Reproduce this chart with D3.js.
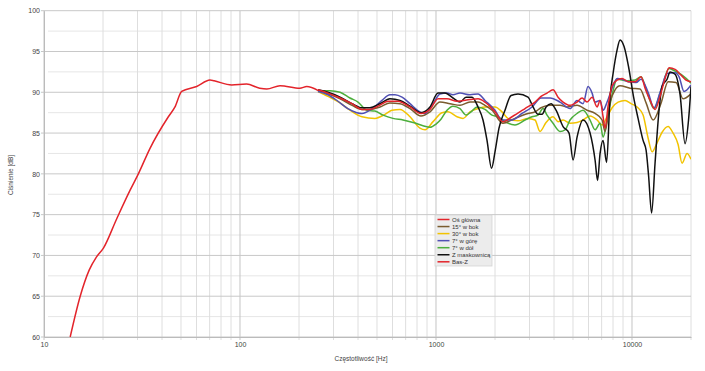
<!doctype html>
<html lang="pl">
<head>
<meta charset="utf-8">
<title>Charakterystyka</title>
<script src="https://d3js.org/d3.v7.min.js"></script>
<style>
  body { margin: 0; background: #fff; }
  svg { display: block; font-family: "Liberation Sans", Arial, sans-serif; }
  .tick text { fill: #444; font-size: 7px; }
</style>
</head>
<body>
<script>
// values: [frequency Hz, level dB]
var basZ = [[13.6,60.0],[15.3,65.0],[17.0,68.2],[18.5,69.8],[20.1,70.9],[23.5,74.5],[27.5,78.0],[30.3,80.0],[34.7,83.1],
  [43.1,87.0],[46.6,88.2],[50.4,90.1],[60.1,90.7],[70.3,91.5],[73.8,91.4],[90.7,90.9],[108,91.0],
  [126,90.5],[137,90.4],[160,90.8],[202,90.5],[219,90.7],[251,90.2]];

var osGlowna = [[250,90.3],[281,89.9],[324,89.3],[373,88.6],[419,87.9],[460,87.9],[506,88.3],[569,88.9],
  [640,88.9],[737,88.2],[838,87.4],[932,87.9],[1024,89.2],[1138,89.2],[1280,88.9],[1491,89.1],[1638,89.2],
  [1778,88.8],[2000,87.6],[2197,86.4],[2443,87.0],[2846,88.0],[3200,88.8],[3434,89.5],[3686,89.9],
  [3955,90.3],[4195,89.4],[4449,88.8],[4830,88.4],[5245,88.8],[5562,89.3],[5899,88.8],[6257,89.4],
  [6636,88.2],[6872,89.0],[7119,87.0],[7288,85.6],[7550,88.3],[7915,90.8],[8395,91.5],[8903,91.7],
  [9553,91.3],[10370,91.3],[11120,91.9],[11660,90.5],[12370,89.0],[13110,87.9],[13910,89.5],
  [14750,91.7],[15460,93.0],[16590,92.8],[17800,92.1],[18870,91.5],[20000,91.3]];

var bok15 = [[250,90.2],[281,89.8],[324,89.2],[373,88.4],[419,87.9],[460,87.9],[518,88.2],[582,88.7],
  [655,88.6],[737,88.0],[838,87.1],[932,87.6],[1048,88.8],[1179,88.6],[1326,88.4],[1491,88.8],[1638,88.8],
  [1778,88.4],[1931,87.8],[2197,86.2],[2530,86.8],[2948,87.4],[3200,87.6],[3434,88.1],[3818,88.4],
  [4294,88.4],[4663,88.2],[5245,88.4],[5899,87.8],[6480,87.4],[7037,86.6],[7288,85.2],[7730,88.8],
  [8198,90.3],[8694,90.8],[9779,90.5],[10990,90.4],[11800,88.7],[12810,86.6],[14080,88.7],[15280,91.3],
  [16790,91.2],[18220,89.2],[20000,89.8]];

var bok30 = [[250,90.1],[281,89.5],[324,88.7],[364,87.8],[419,87.0],[488,86.8],[549,87.3],[596,87.8],
  [655,87.9],[737,87.0],[828,85.6],[879,85.4],[966,86.4],[1073,87.5],[1151,87.6],[1280,87.0],[1374,86.8],
  [1491,87.6],[1638,88.0],[1778,88.2],[2000,88.2],[2172,87.6],[2330,86.8],[2621,86.5],[2948,86.8],
  [3200,86.6],[3394,85.2],[3643,86.3],[3955,87.0],[4195,86.4],[4449,86.6],[4830,86.2],[5245,86.3],
  [5628,86.6],[6110,87.1],[6636,86.6],[7037,86.0],[7463,87.0],[7915,88.1],[8493,88.8],[9221,89.0],
  [9896,88.6],[10620,88.2],[11390,87.2],[12080,84.4],[12670,82.7],[13420,83.8],[14240,85.1],
  [15280,85.8],[16200,85.0],[17190,83.6],[18010,81.3],[19100,82.5],[20000,81.8]];

var gora7 = [[250,90.1],[281,89.7],[316,88.9],[355,88.0],[395,87.5],[419,87.4],[472,88.0],[530,89.0],
  [582,89.7],[618,89.7],[671,89.4],[737,88.6],[828,87.6],[879,87.4],[966,88.6],[1048,89.8],[1138,89.9],
  [1221,89.7],[1326,89.9],[1491,89.7],[1638,89.8],[1778,89.0],[2000,87.8],[2172,86.6],[2443,86.6],
  [2747,87.4],[3090,88.2],[3434,89.3],[3818,89.3],[4294,88.8],[4830,88.0],[5245,89.0],[5628,88.6],
  [5968,90.7],[6257,89.9],[6480,88.8],[6872,89.0],[7119,87.8],[7463,88.8],[7915,90.5],[8395,91.7],
  [8903,91.6],[9553,91.3],[10490,91.2],[11120,91.6],[12080,90.0],[12960,88.1],[13910,90.0],
  [15100,92.3],[16590,92.4],[17390,91.9],[18430,90.1],[20000,90.9]];

var dol7 = [[250,90.2],[288,90.2],[324,90.0],[364,89.3],[400,88.8],[444,87.8],[488,87.7],[537,87.2],
  [603,86.8],[679,86.6],[764,86.3],[858,85.9],[932,85.7],[1000,86.1],[1060,86.7],[1138,87.8],[1221,88.3],
  [1326,88.0],[1423,87.2],[1509,87.6],[1619,88.2],[1778,87.9],[1931,87.2],[2072,87.0],[2249,86.4],
  [2530,86.0],[2846,86.6],[3090,87.0],[3315,87.2],[3516,88.0],[3686,87.2],[3955,86.2],[4294,85.2],
  [4554,85.4],[4830,86.6],[5245,87.4],[5628,87.8],[6110,86.6],[6480,85.4],[6872,86.2],[7119,84.5],
  [7463,86.6],[7915,89.7],[8395,91.6],[9442,91.4],[10370,91.5],[11120,91.9],[11940,90.0],[12960,88.0],
  [14080,90.3],[15460,92.9],[16590,92.6],[17800,92.2],[18870,91.7],[20000,91.1]];

var maskownica = [[250,90.3],[281,90.0],[324,89.4],[373,88.6],[419,88.1],[460,88.1],[518,88.6],
  [582,89.2],[655,89.0],[737,88.3],[838,87.5],[932,88.2],[1024,89.9],[1111,89.9],[1221,89.3],[1326,88.8],
  [1423,89.4],[1527,89.4],[1638,88.2],[1737,86.6],[1821,84.1],[1920,80.7],[2000,82.7],[2096,85.6],
  [2249,87.8],[2414,89.6],[2621,89.8],[2948,89.4],[3127,88.2],[3315,87.3],[3476,87.3],[3643,88.2],
  [3863,88.6],[4097,87.8],[4449,85.8],[4773,85.0],[5004,81.7],[5245,84.5],[5628,86.6],[6110,85.0],
  [6480,81.7],[6674,79.2],[6872,82.5],[7119,84.1],[7419,81.4],[7730,89.4],[8008,92.3],[8395,95.2],
  [8694,96.4],[9111,95.6],[9608,93.1],[10190,89.4],[10740,86.8],[11390,84.1],[11800,82.9],[12150,79.8],
  [12590,75.2],[13110,81.3],[13740,87.8],[14240,90.7],[15100,91.6],[15640,92.5],[16590,92.2],
  [17590,89.7],[18650,83.7],[19430,86.6],[20000,90.7]];

var legendNames = ["Oś główna", "15° w bok", "30° w bok", "7° w górę", "7° w dół", "Z maskownicą", "Bas-Z"];
var legendColors = ["#e3242b", "#7a5c2e", "#f2c300", "#5050b4", "#4cae3c", "#111111", "#e3242b"];
var seriesData = [osGlowna, bok15, bok30, gora7, dol7, maskownica, basZ];
var drawOrder = [2, 4, 1, 3, 5, 0, 6];

var yTicks = [60, 65, 70, 75, 80, 85, 90, 95, 100];
var xTicks = [10, 100, 1000, 10000];

var width = 705, height = 371;

var svg = d3.select('body').append('svg')
  .attr('width', width)
  .attr('height', height);

var x = d3.scaleLog().domain([10, 20000]).range([44, 691]);
var y = d3.scaleLinear().domain([60, 100]).range([337, 10.7]);

var grid = svg.append('g');

// minor horizontal lines, every 2.5 dB
d3.range(62.5, 100, 5).forEach(function(v) {
  grid.append('line')
    .attr('x1', 48).attr('x2', x(20000))
    .attr('y1', y(v)).attr('y2', y(v))
    .attr('stroke', '#e6e6e6').attr('stroke-width', 1);
});

// vertical minor lines 20..90, 200..900 etc
var minors = [];
[10, 100, 1000, 10000].forEach(function(dec) {
  for (var k = 2; k <= 9; k++) {
    if (dec * k <= 20000) minors.push(dec * k);
  }
});
grid.selectAll('line.vmin').data(minors).enter().append('line')
  .attr('class', 'vmin')
  .attr('x1', function(d) { return x(d); }).attr('x2', function(d) { return x(d); })
  .attr('y1', y(100)).attr('y2', y(60) + 3)
  .attr('stroke', '#dedede').attr('stroke-width', 1);

grid.selectAll('line.vmaj').data(xTicks).enter().append('line')
  .attr('class', 'vmaj')
  .attr('x1', function(d) { return x(d); }).attr('x2', function(d) { return x(d); })
  .attr('y1', y(100)).attr('y2', y(60) + 3)
  .attr('stroke', '#c4c4c4').attr('stroke-width', 1);

grid.selectAll('line.hmaj').data(yTicks).enter().append('line')
  .attr('class', 'hmaj')
  .attr('x1', x(10) - 3).attr('x2', x(20000))
  .attr('y1', function(d) { return y(d); }).attr('y2', function(d) { return y(d); })
  .attr('stroke', '#c8c8c8').attr('stroke-width', 1);

// axes (labels only, grid drawn above)
var yAxis = svg.append('g')
  .attr('transform', 'translate(' + x(10) + ',0)')
  .call(d3.axisLeft(y).tickValues(yTicks).tickSize(0).tickPadding(4));
yAxis.select('.domain').attr('stroke', '#bbb');

var xAxis = svg.append('g')
  .attr('transform', 'translate(0,' + y(60) + ')')
  .call(d3.axisBottom(x).tickValues(xTicks).tickFormat(d3.format('d')).tickSize(0).tickPadding(5));
xAxis.select('.domain').attr('stroke', '#bbb');

svg.append('text')
  .attr('x', 361).attr('y', 361)
  .attr('text-anchor', 'middle')
  .attr('font-size', 6.5).attr('fill', '#444')
  .text('Częstotliwość [Hz]');

svg.append('text')
  .attr('transform', 'translate(13,175) rotate(-90)')
  .attr('text-anchor', 'middle')
  .attr('font-size', 6.5).attr('fill', '#444')
  .text('Ciśnienie [dB]');

// curves
svg.append('clipPath').attr('id', 'plotclip')
  .append('rect')
  .attr('x', x(10)).attr('y', y(100))
  .attr('width', x(20000) - x(10)).attr('height', y(60) - y(100));

var line = d3.line()
  .x(function(d) { return x(d[0]); })
  .y(function(d) { return y(d[1]); })
  .curve(d3.curveMonotoneX);

var curves = svg.append('g').attr('clip-path', 'url(#plotclip)');
drawOrder.forEach(function(i) {
  curves.append('path')
    .datum(seriesData[i])
    .attr('d', line)
    .attr('fill', 'none')
    .attr('stroke', legendColors[i])
    .attr('stroke-width', 1.5)
    .attr('stroke-linejoin', 'round');
});

// legend
var lg = svg.append('g').attr('transform', 'translate(435,215)');
lg.append('rect')
  .attr('width', 57).attr('height', 51)
  .attr('fill', '#ececec').attr('stroke', '#d4d4d4').attr('stroke-width', 0.8);

legendNames.forEach(function(name, i) {
  var ly = 4.5 + i * 7.05;
  lg.append('line')
    .attr('x1', 2.5).attr('x2', 14.5)
    .attr('y1', ly).attr('y2', ly)
    .attr('stroke', legendColors[i]).attr('stroke-width', 1.5);
  lg.append('text')
    .attr('x', 17).attr('y', ly + 2.1)
    .attr('font-size', 6).attr('fill', '#333')
    .text(name);
});
</script>
</body>
</html>
